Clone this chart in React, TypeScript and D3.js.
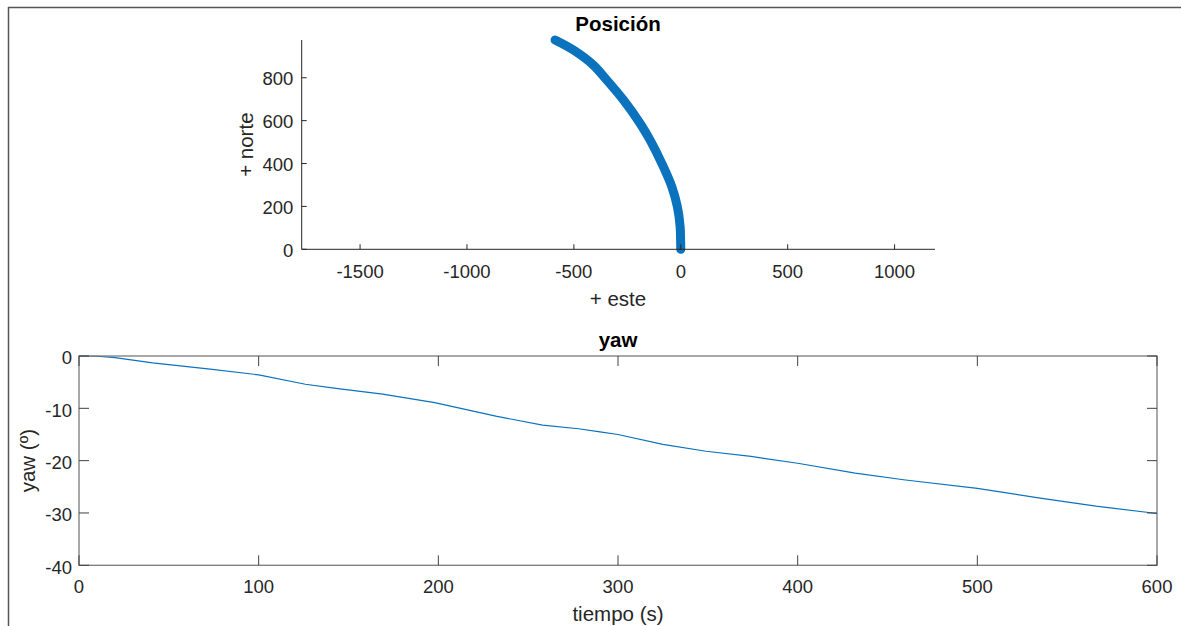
import React from "react";
import * as d3 from "d3";

// Trajectory (este, norte)
const posEste = [0, -1, -3, -16, -42, -89, -144, -190, -268, -346, -409, -502, -588];
const posNorte = [0, 50, 105, 199, 292, 401, 510, 587, 696, 789, 859, 929, 976];

// Yaw over time
const tiempo = [0, 10, 20, 41, 73, 100, 126, 143, 169, 198, 232, 258, 278, 290, 300, 325, 349, 374, 400, 432, 460, 500, 534, 566, 600];
const yawDeg = [0, -0.05, -0.3, -1.3, -2.5, -3.6, -5.4, -6.2, -7.3, -8.9, -11.5, -13.2, -13.9, -14.5, -15.0, -16.9, -18.2, -19.2, -20.5, -22.4, -23.7, -25.3, -27.1, -28.7, -30.1];

const posXTicks = [-1500, -1000, -500, 0, 500, 1000];
const posYTicks = [0, 200, 400, 600, 800];
const yawXTicks = [0, 100, 200, 300, 400, 500, 600];
const yawYTicks = [0, -10, -20, -30, -40];

const FONT = "'Liberation Sans', Arial, Helvetica, sans-serif";
const TICK_FS = 18.5;
const LABEL_FS = 20.5;
const TXT = "#262626";
const BLUE = "#0b72bd";

export default function App() {
  // Top axes
  const tx = d3.scaleLinear().domain([-1773, 1189]).range([301.7, 935]);
  const ty = d3.scaleLinear().domain([0, 976]).range([249.3, 40]);
  const posPts: [number, number][] = posEste.map((e, i) => [e, posNorte[i]]);
  const posLine = d3
    .line<[number, number]>()
    .x((d) => tx(d[0]))
    .y((d) => ty(d[1]))
    .curve(d3.curveCatmullRom.alpha(0.5));

  // Bottom axes
  const bx = d3.scaleLinear().domain([0, 600]).range([79, 1157]);
  const by = d3.scaleLinear().domain([-40, 0]).range([565.3, 356]);
  const yawPts: [number, number][] = tiempo.map((t, i) => [t, yawDeg[i]]);
  const yawLine = d3
    .line<[number, number]>()
    .x((d) => bx(d[0]))
    .y((d) => by(d[1]));

  const [tx0, tx1] = tx.range();
  const [ty0, ty1] = ty.range();
  const [bx0, bx1] = bx.range();
  const [by0, by1] = by.range();

  return (
    <svg
      width={1181}
      height={626}
      style={{ position: "absolute", left: 0, top: 0, background: "#fff" }}
      fontFamily={FONT}
    >
      <rect x={0} y={0} width={1181} height={626} fill="#fff" />
      {/* window frame */}
      <line x1={8} y1={7.5} x2={1181} y2={7.5} stroke="#555" strokeWidth={1.5} />
      <line x1={8.5} y1={7} x2={8.5} y2={626} stroke="#555" strokeWidth={1.5} />

      {/* ===== Top: Posición ===== */}
      <text x={618} y={31} textAnchor="middle" fontSize={LABEL_FS} fontWeight="bold" fill="#000">
        Posición
      </text>
      <path d={posLine(posPts) || ""} fill="none" stroke={BLUE} strokeWidth={9} strokeLinecap="round" strokeLinejoin="round" />
      {/* axes lines */}
      <line x1={tx0} y1={ty0} x2={tx1} y2={ty0} stroke="#262626" strokeWidth={1} />
      <line x1={tx0} y1={ty0} x2={tx0} y2={ty1} stroke="#262626" strokeWidth={1} />
      {posXTicks.map((v) => (
        <g key={"px" + v}>
          <line x1={tx(v)} x2={tx(v)} y1={ty0} y2={ty0 - 5} stroke="#262626" />
          <text x={tx(v)} y={277.6} textAnchor="middle" fontSize={TICK_FS} fill={TXT}>
            {v}
          </text>
        </g>
      ))}
      {posYTicks.map((v) => (
        <g key={"py" + v}>
          <line x1={tx0} x2={tx0 + 5} y1={ty(v)} y2={ty(v)} stroke="#262626" />
          <text x={293.3} y={ty(v) + 7.2} textAnchor="end" fontSize={TICK_FS} fill={TXT}>
            {v}
          </text>
        </g>
      ))}
      <text x={618} y={305.5} textAnchor="middle" fontSize={LABEL_FS} fill={TXT}>
        + este
      </text>
      <text
        transform={`translate(253,${(ty0 + ty1) / 2}) rotate(-90)`}
        textAnchor="middle"
        fontSize={LABEL_FS}
        fill={TXT}
      >
        + norte
      </text>

      {/* ===== Bottom: yaw ===== */}
      <text x={618} y={346.5} textAnchor="middle" fontSize={LABEL_FS} fontWeight="bold" fill="#000">
        yaw
      </text>
      <path d={yawLine(yawPts) || ""} fill="none" stroke={BLUE} strokeWidth={1.2} />
      <rect x={bx0} y={by1} width={bx1 - bx0} height={by0 - by1} fill="none" stroke="#7a7a7a" strokeWidth={1.3} />
      {yawXTicks.map((v) => (
        <g key={"bx" + v}>
          <line x1={bx(v)} x2={bx(v)} y1={by0} y2={by0 - 10} stroke="#404040" />
          <line x1={bx(v)} x2={bx(v)} y1={by1} y2={by1 + 10} stroke="#404040" />
          <text x={bx(v)} y={593.3} textAnchor="middle" fontSize={TICK_FS} fill={TXT}>
            {v}
          </text>
        </g>
      ))}
      {yawYTicks.map((v) => (
        <g key={"by" + v}>
          <line x1={bx0} x2={bx0 + 10} y1={by(v)} y2={by(v)} stroke="#404040" />
          <line x1={bx1} x2={bx1 - 10} y1={by(v)} y2={by(v)} stroke="#404040" />
          <text x={72} y={by(v) + 8.2} textAnchor="end" fontSize={TICK_FS} fill={TXT}>
            {v}
          </text>
        </g>
      ))}
      <text x={618} y={621} textAnchor="middle" fontSize={LABEL_FS} fill={TXT}>
        tiempo (s)
      </text>
      <text
        transform={`translate(34.5,${(by0 + by1) / 2}) rotate(-90)`}
        textAnchor="middle"
        fontSize={LABEL_FS}
        fill={TXT}
      >
        yaw (º)
      </text>
    </svg>
  );
}
